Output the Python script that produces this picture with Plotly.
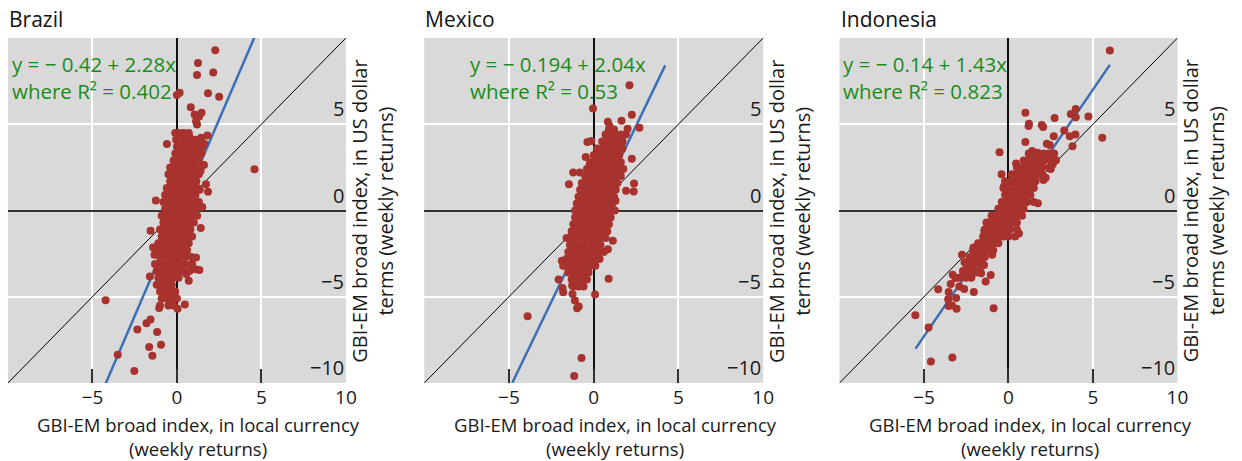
import plotly.graph_objects as go

# ---------------- data (weekly returns, %) ----------------
countries = ["Brazil", "Mexico", "Indonesia"]
equations = ["y = \u2212 0.42 + 2.28x", "y = \u2212 0.194 + 2.04x", "y = \u2212 0.14 + 1.43x"]
r2_text = ["0.402", "0.53", "0.823"]
intercepts = [-0.42, -0.194, -0.14]
slopes = [2.28, 2.04, 1.43]
fit_x_ranges = [[-4.25, 4.6], [-4.8, 4.22], [-5.5, 6.0]]

x_tickvals = [-5, 0, 5, 10]
x_ticktext = ["\u22125", "0", "5", "10"]
y_tickvals = [-10, -5, 0, 5]
y_ticktext = ["\u221210", "\u22125", "0", "5"]
x_title = "GBI-EM broad index, in local currency<br>(weekly returns)"
y_title = "GBI-EM broad index, in US dollar<br>terms (weekly returns)"

brazil_x = [
    2.27, 1.25, 1.19, 2.15, 1.84, 2.5, 0.0, 0.16, 0.82, 1.05, 1.46, 1.31, 1.19, 1.13, -0.59, 1.8, 1.62,
    1.6, 4.59, 1.72, 1.84, -1.25, -1.56, 1.41, 1.13, 1.33, 0.7, -1.6, -1.41, -1.33, -4.22, 0.04, 0.47,
    -1.05, -1.56, -1.8, -2.34, -1.17, -0.94, -1.64, -1.45, -3.5, -2.52,
    0.74, 0.94, 1.23, 1.43, 1.4, 1.35, 1.5, 0.9, 1.1, 0.55, -0.37, -0.23,
    -0.1, 0.15, 0.4, 0.7,
    -0.05, 0.25, 0.5, 0.8, 1.1, 1.35,
    0.0, 0.3, 0.6, 0.9, 1.2, 1.5,
    -0.1, 0.2, 0.5, 0.8, 1.1, 1.45,
    -0.2, 0.1, 0.4, 0.7, 1.0, 1.3,
    -0.4, -0.1, 0.2, 0.5, 0.8, 1.1,
    -0.5, -0.2, 0.1, 0.4, 0.7, 1.0, 1.3,
    -0.4, -0.1, 0.2, 0.5, 0.8, 1.15,
    -0.6, -0.3, 0.0, 0.3, 0.6, 0.9, 1.2,
    -0.7, -0.4, -0.1, 0.2, 0.5, 0.8, 1.1,
    -0.8, -0.5, -0.2, 0.1, 0.4, 0.7, 1.0, 1.3,
    -0.7, -0.4, -0.1, 0.2, 0.5, 0.8, 1.1,
    -0.9, -0.6, -0.3, 0.0, 0.3, 0.6, 0.9, 1.2,
    -0.8, -0.5, -0.2, 0.1, 0.4, 0.7, 1.0,
    -1.0, -0.7, -0.4, -0.1, 0.2, 0.5, 0.8,
    -0.9, -0.6, -0.3, 0.0, 0.3, 0.6, 0.9,
    -1.1, -0.8, -0.5, -0.2, 0.1, 0.4, 0.7,
    -1.2, -0.9, -0.6, -0.3, 0.0, 0.3, 0.6,
    -1.0, -0.7, -0.4, -0.1, 0.2, 0.5, 0.85,
    -1.3, -1.0, -0.7, -0.4, -0.1, 0.2, 0.5, 0.9,
    -1.2, -0.9, -0.6, -0.3, 0.0, 0.35, 0.75,
    -1.1, -0.8, -0.5, -0.2, 0.1,
    -1.2, -0.9, -0.6, -0.3,
    -1.0, -0.7, -0.4, -0.1,
    -0.9, -0.6, -0.3, 0.0,
    -1.0, -0.5, -0.2,
]
brazil_y = [
    9.29, 8.55, 7.86, 8.0, 6.8, 6.59, 6.69, 6.82, 5.99, 5.57, 5.66, 5.45, 4.99, 5.18, 3.85, 4.35, 3.87,
    2.64, 2.39, 1.52, 1.08, 0.58, -1.18, -1.02, -2.72, -3.45, -4.07, -3.83, -2.14, -2.56, -5.2, -5.7, -5.45,
    -5.65, -6.32, -6.53, -6.9, -7.05, -7.78, -7.92, -8.42, -8.36, -9.31,
    4.28, 3.83, 4.03, 4.22, 2.3, 1.2, 0.2, -3.35, -3.4, -3.68, -5.22, -4.84,
    4.5, 4.5, 4.5, 4.5,
    4.1, 4.1, 4.1, 4.1, 4.1, 4.1,
    3.7, 3.7, 3.7, 3.7, 3.7, 3.7,
    3.3, 3.3, 3.3, 3.3, 3.3, 3.3,
    2.9, 2.9, 2.9, 2.9, 2.9, 2.9,
    2.5, 2.5, 2.5, 2.5, 2.5, 2.5,
    2.1, 2.1, 2.1, 2.1, 2.1, 2.1, 2.1,
    1.7, 1.7, 1.7, 1.7, 1.7, 1.7,
    1.3, 1.3, 1.3, 1.3, 1.3, 1.3, 1.3,
    0.9, 0.9, 0.9, 0.9, 0.9, 0.9, 0.9,
    0.5, 0.5, 0.5, 0.5, 0.5, 0.5, 0.5, 0.5,
    0.1, 0.1, 0.1, 0.1, 0.1, 0.1, 0.1,
    -0.3, -0.3, -0.3, -0.3, -0.3, -0.3, -0.3, -0.3,
    -0.7, -0.7, -0.7, -0.7, -0.7, -0.7, -0.7,
    -1.1, -1.1, -1.1, -1.1, -1.1, -1.1, -1.1,
    -1.5, -1.5, -1.5, -1.5, -1.5, -1.5, -1.5,
    -1.9, -1.9, -1.9, -1.9, -1.9, -1.9, -1.9,
    -2.3, -2.3, -2.3, -2.3, -2.3, -2.3, -2.3,
    -2.7, -2.7, -2.7, -2.7, -2.7, -2.7, -2.7,
    -3.1, -3.1, -3.1, -3.1, -3.1, -3.1, -3.1, -3.1,
    -3.5, -3.5, -3.5, -3.5, -3.5, -3.5, -3.5,
    -3.9, -3.9, -3.9, -3.9, -3.9,
    -4.3, -4.3, -4.3, -4.3,
    -4.7, -4.7, -4.7, -4.7,
    -5.1, -5.1, -5.1, -5.1,
    -5.5, -5.5, -5.5,
]

mexico_x = [
    2.11, -0.04, 2.25, 1.64, 2.7, 0.84, 0.94, 1.09, 2.0, 1.72, 1.52, -0.37, -0.14, 2.25, -0.47, -0.23,
    -1.21, -0.82, -1.46, -0.23, 2.38, 2.36, 1.91, -0.82, 1.29, -1.6, 1.13, 0.84, 0.35, 0.88, -1.88, -1.8,
    -2.07, -1.84, -1.8, -1.27, -1.02, -0.7, 0.08, -1.25, -1.11, -0.98, -0.88, -3.9, -0.72, -1.15,
    0.9, 1.2,
    0.7, 1.0, 1.3, 1.6, 1.9,
    0.5, 0.8, 1.1, 1.4, 1.7,
    0.2, 0.5, 0.8, 1.1, 1.4, 1.7,
    0.0, 0.3, 0.6, 0.9, 1.2, 1.5,
    -0.2, 0.1, 0.4, 0.7, 1.0, 1.3, 1.6,
    -0.4, -0.1, 0.2, 0.5, 0.8, 1.1, 1.4, 1.75,
    -0.5, -0.2, 0.1, 0.4, 0.7, 1.0, 1.3, 1.6,
    -0.7, -0.4, -0.1, 0.2, 0.5, 0.8, 1.1, 1.4,
    -0.8, -0.5, -0.2, 0.1, 0.4, 0.7, 1.0, 1.3,
    -0.9, -0.6, -0.3, 0.0, 0.3, 0.6, 0.9, 1.2,
    -1.0, -0.7, -0.4, -0.1, 0.2, 0.5, 0.8, 1.1,
    -1.1, -0.8, -0.5, -0.2, 0.1, 0.4, 0.7, 1.0, 1.25,
    -1.1, -0.8, -0.5, -0.2, 0.1, 0.4, 0.7, 1.0,
    -1.2, -0.9, -0.6, -0.3, 0.0, 0.3, 0.6, 0.9,
    -1.3, -1.0, -0.7, -0.4, -0.1, 0.2, 0.5, 0.8,
    -1.4, -1.1, -0.8, -0.5, -0.2, 0.1, 0.4, 0.7,
    -1.4, -1.1, -0.8, -0.5, -0.2, 0.1, 0.4,
    -1.5, -1.2, -0.9, -0.6, -0.3, 0.0, 0.3, 0.6,
    -1.6, -1.3, -1.0, -0.7, -0.4, -0.1, 0.2,
    -1.7, -1.4, -1.1, -0.8, -0.5, -0.2, 0.1,
    -1.5, -1.2, -0.9, -0.6, -0.3,
    -1.3, -1.0, -0.7, -0.4,
    -1.2, -0.9, -0.6,
]
mexico_y = [
    7.26, 5.92, 5.55, 5.2, 4.8, 5.14, 4.89, 4.6, 4.74, 4.37, 4.03, 3.97, 4.03, 3.0, 3.1, 2.68,
    2.2, 2.2, 1.52, 2.2, 1.56, 1.1, 1.14, 0.79, 0.56, -1.6, -1.75, -2.24, -2.81, -3.95, -2.91, -3.2,
    -4.0, -4.49, -4.74, -4.35, -4.35, -4.16, -4.87, -4.84, -5.22, -5.66, -5.57, -6.13, -8.55, -9.6,
    4.7, 4.7,
    4.4, 4.4, 4.4, 4.4, 4.4,
    4.0, 4.0, 4.0, 4.0, 4.0,
    3.6, 3.6, 3.6, 3.6, 3.6, 3.6,
    3.2, 3.2, 3.2, 3.2, 3.2, 3.2,
    2.8, 2.8, 2.8, 2.8, 2.8, 2.8, 2.8,
    2.4, 2.4, 2.4, 2.4, 2.4, 2.4, 2.4, 2.4,
    2.0, 2.0, 2.0, 2.0, 2.0, 2.0, 2.0, 2.0,
    1.6, 1.6, 1.6, 1.6, 1.6, 1.6, 1.6, 1.6,
    1.2, 1.2, 1.2, 1.2, 1.2, 1.2, 1.2, 1.2,
    0.8, 0.8, 0.8, 0.8, 0.8, 0.8, 0.8, 0.8,
    0.4, 0.4, 0.4, 0.4, 0.4, 0.4, 0.4, 0.4,
    0.0, 0.0, 0.0, 0.0, 0.0, 0.0, 0.0, 0.0, 0.0,
    -0.4, -0.4, -0.4, -0.4, -0.4, -0.4, -0.4, -0.4,
    -0.8, -0.8, -0.8, -0.8, -0.8, -0.8, -0.8, -0.8,
    -1.2, -1.2, -1.2, -1.2, -1.2, -1.2, -1.2, -1.2,
    -1.6, -1.6, -1.6, -1.6, -1.6, -1.6, -1.6, -1.6,
    -2.0, -2.0, -2.0, -2.0, -2.0, -2.0, -2.0,
    -2.4, -2.4, -2.4, -2.4, -2.4, -2.4, -2.4, -2.4,
    -2.8, -2.8, -2.8, -2.8, -2.8, -2.8, -2.8,
    -3.2, -3.2, -3.2, -3.2, -3.2, -3.2, -3.2,
    -3.6, -3.6, -3.6, -3.6, -3.6,
    -4.0, -4.0, -4.0, -4.0,
    -4.4, -4.4, -4.4,
]

indonesia_x = [
    6.0, 1.0, 3.98, 3.69, 3.98, 4.73, 2.73, 1.21, 1.19, 1.97, 2.05, 3.3, 3.96, 3.63, 2.68, 5.55, 1.0,
    2.27, 2.44, 3.79, -0.53, 1.7, 1.4, 1.93, 2.32, 2.81, 2.62, 0.45, -0.41, 2.07, -0.27, 1.74, -1.43,
    0.62, -2.75, -2.07, -2.17, -0.96, -2.6, -2.32, -1.45, -1.93, -1.62, -1.05, -3.3, -3.14, -2.7, -3.42,
    -2.91, -2.62, -1.35, -4.16, -3.54, -2.05, -3.57, -3.1, -3.54, -3.34, -3.07, -0.88, -5.51, -4.73,
    -4.59, -3.32, 2.5, 2.2,
    1.2, 1.5, 1.8, 2.1, 2.4, 2.7,
    0.9, 1.2, 1.5, 1.8, 2.1, 2.5,
    0.5, 0.8, 1.1, 1.4, 1.7, 2.0, 2.4,
    0.2, 0.5, 0.8, 1.1, 1.4, 1.7, 2.0,
    -0.2, 0.1, 0.4, 0.7, 1.0, 1.3, 1.6,
    -0.3, 0.0, 0.3, 0.6, 0.9, 1.2, 1.5,
    -0.2, 0.1, 0.4, 0.7, 1.0, 1.3,
    -0.4, -0.1, 0.2, 0.5, 0.8, 1.1, 1.5,
    -0.6, -0.3, 0.0, 0.3, 0.6, 0.9,
    -1.0, -0.7, -0.4, -0.1, 0.2, 0.5, 0.8,
    -1.3, -1.0, -0.7, -0.4, -0.1, 0.2, 0.5,
    -1.4, -1.1, -0.8, -0.5, -0.2, 0.1, 0.5,
    -1.5, -1.2, -0.9, -0.6, -0.3, 0.0, 0.4,
    -1.8, -1.5, -1.2, -0.9, -0.6,
    -2.1, -1.8, -1.5, -1.2, -0.9,
    -2.3, -2.0, -1.7, -1.4,
    -2.5, -2.2, -1.9, -1.6,
    -2.7, -2.4, -2.1, -1.7,
    -2.9, -2.5, -2.2,
]
indonesia_y = [
    9.27, 5.66, 5.88, 5.6, 5.41, 5.45, 5.36, 5.03, 4.9, 4.95, 4.84, 4.64, 4.41, 4.3, 4.3, 4.22, 3.97,
    3.87, 3.8, 3.72, 3.37, 3.35, 3.45, 3.26, 3.06, 2.91, 2.68, 2.72, 2.1, 1.77, 1.39, 0.42, -1.18,
    -1.33, -2.56, -2.14, -2.72, -2.56, -3.0, -2.91, -3.16, -3.6, -3.64, -3.74, -3.72, -3.91, -3.87, -4.26,
    -4.41, -4.55, -4.12, -4.57, -4.72, -4.72, -5.14, -5.07, -5.53, -5.51, -5.7, -5.66, -6.07, -6.78,
    -8.75, -8.52, 2.4, 1.9,
    3.3, 3.3, 3.3, 3.3, 3.3, 3.3,
    2.9, 2.9, 2.9, 2.9, 2.9, 2.9,
    2.5, 2.5, 2.5, 2.5, 2.5, 2.5, 2.5,
    2.1, 2.1, 2.1, 2.1, 2.1, 2.1, 2.1,
    1.7, 1.7, 1.7, 1.7, 1.7, 1.7, 1.7,
    1.3, 1.3, 1.3, 1.3, 1.3, 1.3, 1.3,
    0.9, 0.9, 0.9, 0.9, 0.9, 0.9,
    0.5, 0.5, 0.5, 0.5, 0.5, 0.5, 0.5,
    0.1, 0.1, 0.1, 0.1, 0.1, 0.1,
    -0.3, -0.3, -0.3, -0.3, -0.3, -0.3, -0.3,
    -0.7, -0.7, -0.7, -0.7, -0.7, -0.7, -0.7,
    -1.1, -1.1, -1.1, -1.1, -1.1, -1.1, -1.1,
    -1.5, -1.5, -1.5, -1.5, -1.5, -1.5, -1.5,
    -1.9, -1.9, -1.9, -1.9, -1.9,
    -2.3, -2.3, -2.3, -2.3, -2.3,
    -2.7, -2.7, -2.7, -2.7,
    -3.1, -3.1, -3.1, -3.1,
    -3.5, -3.5, -3.5, -3.5,
    -3.9, -3.9, -3.9,
]

points_x = [brazil_x, mexico_x, indonesia_x]
points_y = [brazil_y, mexico_y, indonesia_y]

# ---------------- styling ----------------
W, H = 1242, 461
FONT = "Open Sans, Noto Sans, sans-serif"
BG = "#d9d9d9"
DOT = "#a8322d"
FIT = "#3d6fb6"
GREEN = "#1a8c1a"
TXT = "#1a1a1a"
panel_px = [(8, 349), (428, 770), (847, 1188)]
top_px, bottom_px = 38, 383
X_MIN, X_MAX = -10, 10


def px_x(px):
    return px / W


def px_y(py):
    return 1 - py / H


fig = go.Figure()
layout = dict(
    width=W, height=H, margin=dict(l=0, r=0, t=0, b=0),
    paper_bgcolor="white", plot_bgcolor=BG, showlegend=False,
    font=dict(family=FONT, size=20, color=TXT),
)
annotations = []


def add_text(text, x, y, size, color=TXT, xanchor="left", angle=0, align="left"):
    annotations.append(dict(text=text, x=px_x(x), y=px_y(y), xref="paper", yref="paper",
                            xanchor=xanchor, yanchor="middle", showarrow=False, textangle=angle,
                            align=align, font=dict(size=size, color=color, family=FONT)))


for i, name in enumerate(countries):
    n = "" if i == 0 else str(i + 1)
    xa, ya = "x" + n, "y" + n
    l, r = panel_px[i]
    layout["xaxis" + n] = dict(
        domain=[px_x(l), px_x(r)], range=[X_MIN, X_MAX + 0.001], anchor=ya,
        tickvals=x_tickvals, ticktext=x_ticktext, ticks="inside", ticklen=14,
        tickwidth=1.5, tickcolor="#333333", ticklabelstandoff=1, ticklabeloverflow="allow",
        showgrid=True, gridcolor="white", gridwidth=1.5,
        zeroline=True, zerolinecolor="#111111", zerolinewidth=1.5, showline=False,
        tickfont=dict(size=19, color=TXT), fixedrange=True,
    )
    layout["yaxis" + n] = dict(
        domain=[px_y(bottom_px), px_y(top_px)], range=[-10, 10], anchor=xa, side="right",
        tickvals=y_tickvals, showticklabels=False, ticks="",
        showgrid=True, gridcolor="white", gridwidth=1.5,
        zeroline=True, zerolinecolor="#333333", zerolinewidth=1.5, showline=False,
        fixedrange=True,
    )
    # y tick labels: drawn inside the plot, right-aligned, just above each gridline
    for v, t in zip(y_tickvals, y_ticktext):
        annotations.append(dict(text=t, x=X_MAX, y=v, xref=xa, yref=ya, xanchor="right",
                                yanchor="bottom", showarrow=False,
                                font=dict(size=20, color=TXT, family=FONT)))
    # 45-degree reference line
    fig.add_trace(go.Scatter(x=[-10, 10], y=[-10, 10], mode="lines",
                             line=dict(color="black", width=1), xaxis=xa, yaxis=ya, hoverinfo="skip"))
    # regression line
    fx = fit_x_ranges[i]
    fy = [intercepts[i] + slopes[i] * v for v in fx]
    fig.add_trace(go.Scatter(x=fx, y=fy, mode="lines", line=dict(color=FIT, width=2.5),
                             xaxis=xa, yaxis=ya, hoverinfo="skip"))
    # weekly returns
    fig.add_trace(go.Scatter(x=points_x[i], y=points_y[i], mode="markers",
                             marker=dict(color=DOT, size=8, line=dict(width=0)),
                             xaxis=xa, yaxis=ya))
    # panel title
    add_text(name, l - 1, 19, 21, color="#111111")
    # equation
    eq_left = [10, 472, 849][i]
    add_text(equations[i] + "<br>where R\u00b2 = " + r2_text[i], eq_left, 77, 20.5, color=GREEN)
    # x axis title
    add_text(x_title, (l + r) / 2 + 22, 436, 18.5, xanchor="center", align="center")
    # y axis title (right side, rotated)
    add_text(y_title, r + 26, 211, 20, xanchor="center", angle=-90, align="center")

layout["annotations"] = annotations
fig.update_layout(**layout)
fig.write_html("out.html", config={"displayModeBar": False},
               post_script="document.body.style.margin='0';")
